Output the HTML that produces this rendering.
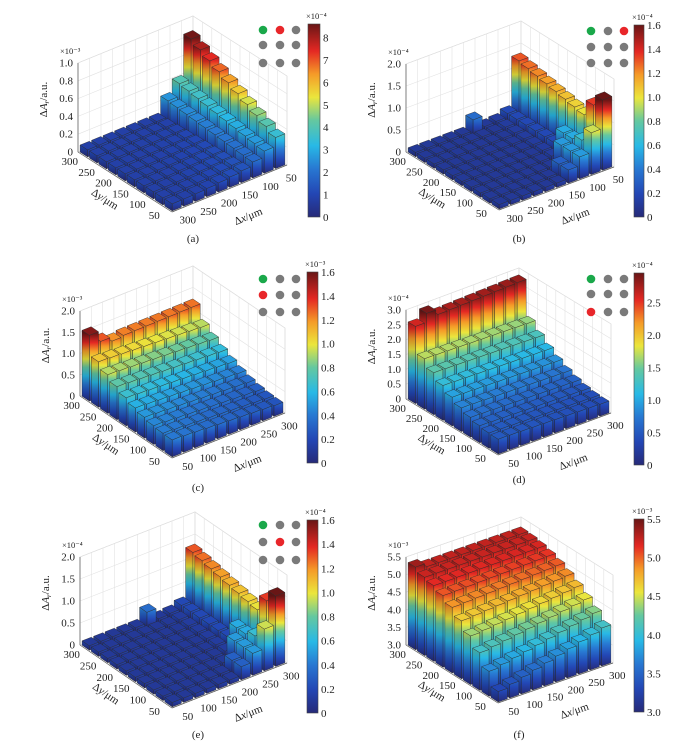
<!DOCTYPE html>
<html><head><meta charset="utf-8">
<style>
html,body{margin:0;padding:0;background:#fff;}
svg{display:block;font-family:"Liberation Serif",serif;}
text{fill:#222;font-size:11px;}
.small{font-size:8.5px;}
</style></head>
<body>
<svg id="S" width="692" height="753" viewBox="0 0 692 753" xmlns="http://www.w3.org/2000/svg">
<defs id="D"></defs>

<g id="pa" transform="translate(0,0)">
 <g class="bars"></g>
 <g class="zt"><text>0</text><text>0.2</text><text>0.4</text><text>0.6</text><text>0.8</text><text>1.0</text></g>
 <text class="zexp small">×10⁻³</text>
 <g class="yt"><text>300</text><text>250</text><text>200</text><text>150</text><text>100</text><text>50</text></g>
 <g class="xt"><text>300</text><text>250</text><text>200</text><text>150</text><text>100</text><text>50</text></g>
 <g class="ct"><text>0</text><text>1</text><text>2</text><text>3</text><text>4</text><text>5</text><text>6</text><text>7</text><text>8</text></g>
 <text class="cexp small">×10⁻⁴</text>
 <text class="ztitle">Δ<tspan font-style="italic">A</tspan><tspan font-size="7" dy="2" font-style="italic">r</tspan><tspan dy="-2">/a.u.</tspan></text>
 <text class="ytitle">Δ<tspan font-style="italic">y</tspan>/μm</text>
 <text class="xtitle">Δ<tspan font-style="italic">x</tspan>/μm</text>
 <text x="193" y="242" text-anchor="middle">(a)</text>
</g>

<g id="pb" transform="translate(346,0)">
 <g class="bars"></g>
 <g class="zt"><text>0</text><text>0.5</text><text>1.0</text><text>1.5</text><text>2.0</text></g>
 <text class="zexp small">×10⁻⁴</text>
 <g class="yt"><text>300</text><text>250</text><text>200</text><text>150</text><text>100</text><text>50</text></g>
 <g class="xt"><text>300</text><text>250</text><text>200</text><text>150</text><text>100</text><text>50</text></g>
 <g class="ct"><text>0</text><text>0.2</text><text>0.4</text><text>0.6</text><text>0.8</text><text>1.0</text><text>1.2</text><text>1.4</text><text>1.6</text></g>
 <text class="cexp small">×10⁻⁴</text>
 <text class="ztitle">Δ<tspan font-style="italic">A</tspan><tspan font-size="7" dy="2" font-style="italic">r</tspan><tspan dy="-2">/a.u.</tspan></text>
 <text class="ytitle">Δ<tspan font-style="italic">y</tspan>/μm</text>
 <text class="xtitle">Δ<tspan font-style="italic">x</tspan>/μm</text>
 <text x="173" y="242" text-anchor="middle">(b)</text>
</g>

<g id="pc" transform="translate(0,250)">
 <g class="bars"></g>
 <g class="zt"><text>0</text><text>0.5</text><text>1.0</text><text>1.5</text><text>2.0</text></g>
 <text class="zexp small">×10⁻³</text>
 <g class="yt"><text>300</text><text>250</text><text>200</text><text>150</text><text>100</text><text>50</text></g>
 <g class="xt"><text>50</text><text>100</text><text>150</text><text>200</text><text>250</text><text>300</text></g>
 <g class="ct"><text>0</text><text>0.2</text><text>0.4</text><text>0.6</text><text>0.8</text><text>1.0</text><text>1.2</text><text>1.4</text><text>1.6</text></g>
 <text class="cexp small">×10⁻³</text>
 <text class="ztitle">Δ<tspan font-style="italic">A</tspan><tspan font-size="7" dy="2" font-style="italic">r</tspan><tspan dy="-2">/a.u.</tspan></text>
 <text class="ytitle">Δ<tspan font-style="italic">y</tspan>/μm</text>
 <text class="xtitle">Δ<tspan font-style="italic">x</tspan>/μm</text>
 <text x="198" y="241" text-anchor="middle">(c)</text>
</g>

<g id="pd" transform="translate(346,250)">
 <g class="bars"></g>
 <g class="zt"><text>0</text><text>0.5</text><text>1.0</text><text>1.5</text><text>2.0</text><text>2.5</text><text>3.0</text></g>
 <text class="zexp small">×10⁻⁴</text>
 <g class="yt"><text>300</text><text>250</text><text>200</text><text>150</text><text>100</text><text>50</text></g>
 <g class="xt"><text>50</text><text>100</text><text>150</text><text>200</text><text>250</text><text>300</text></g>
 <g class="ct"><text>0</text><text>0.5</text><text>1.0</text><text>1.5</text><text>2.0</text><text>2.5</text></g>
 <text class="cexp small">×10⁻⁴</text>
 <text class="ztitle">Δ<tspan font-style="italic">A</tspan><tspan font-size="7" dy="2" font-style="italic">r</tspan><tspan dy="-2">/a.u.</tspan></text>
 <text class="ytitle">Δ<tspan font-style="italic">y</tspan>/μm</text>
 <text class="xtitle">Δ<tspan font-style="italic">x</tspan>/μm</text>
 <text x="173" y="233" text-anchor="middle">(d)</text>
</g>

<g id="pe" transform="translate(0,500)">
 <g class="bars"></g>
 <g class="zt"><text>0</text><text>0.5</text><text>1.0</text><text>1.5</text><text>2.0</text></g>
 <text class="zexp small">×10⁻⁴</text>
 <g class="yt"><text>300</text><text>250</text><text>200</text><text>150</text><text>100</text><text>50</text></g>
 <g class="xt"><text>50</text><text>100</text><text>150</text><text>200</text><text>250</text><text>300</text></g>
 <g class="ct"><text>0</text><text>0.2</text><text>0.4</text><text>0.6</text><text>0.8</text><text>1.0</text><text>1.2</text><text>1.4</text><text>1.6</text></g>
 <text class="cexp small">×10⁻⁴</text>
 <text class="ztitle">Δ<tspan font-style="italic">A</tspan><tspan font-size="7" dy="2" font-style="italic">r</tspan><tspan dy="-2">/a.u.</tspan></text>
 <text class="ytitle">Δ<tspan font-style="italic">y</tspan>/μm</text>
 <text class="xtitle">Δ<tspan font-style="italic">x</tspan>/μm</text>
 <text x="198" y="238" text-anchor="middle">(e)</text>
</g>

<g id="pf" transform="translate(346,500)">
 <g class="bars"></g>
 <g class="zt"><text>3.0</text><text>3.5</text><text>4.0</text><text>4.5</text><text>5.0</text><text>5.5</text></g>
 <text class="zexp small">×10⁻³</text>
 <g class="yt"><text>300</text><text>250</text><text>200</text><text>150</text><text>100</text><text>50</text></g>
 <g class="xt"><text>50</text><text>100</text><text>150</text><text>200</text><text>250</text><text>300</text></g>
 <g class="ct"><text>3.0</text><text>3.5</text><text>4.0</text><text>4.5</text><text>5.0</text><text>5.5</text></g>
 <text class="cexp small">×10⁻³</text>
 <text class="ztitle">Δ<tspan font-style="italic">A</tspan><tspan font-size="7" dy="2" font-style="italic">r</tspan><tspan dy="-2">/a.u.</tspan></text>
 <text class="ytitle">Δ<tspan font-style="italic">y</tspan>/μm</text>
 <text class="xtitle">Δ<tspan font-style="italic">x</tspan>/μm</text>
 <text x="173" y="238" text-anchor="middle">(f)</text>
</g>
</svg>

<script>
(function(){
var NS="http://www.w3.org/2000/svg";
var D=document.getElementById("D");
var stops=[[0,[38,42,120]],[0.12,[35,70,180]],[0.25,[40,120,210]],[0.37,[40,185,230]],[0.5,[100,200,160]],[0.62,[235,230,60]],[0.74,[245,155,40]],[0.86,[228,40,35]],[1,[105,22,22]]];
function cmap(f){f=Math.max(0,Math.min(1,f));for(var i=1;i<stops.length;i++){if(f<=stops[i][0]){var a=stops[i-1],b=stops[i],u=(f-a[0])/(b[0]-a[0]);return "rgb("+[0,1,2].map(function(k){return Math.round(a[1][k]+(b[1][k]-a[1][k])*u);}).join(",")+")";}}return "rgb(105,22,22)";}
function el(n,at,par){var e=document.createElementNS(NS,n);for(var k in at)e.setAttribute(k,at[k]);if(par)par.appendChild(e);return e;}
var gid=0;
function grad(x1,y1,x2,y2){var id="g"+(gid++);var g=el("linearGradient",{id:id,gradientUnits:"userSpaceOnUse",x1:x1,y1:y1,x2:x2,y2:y2},D);stops.forEach(function(s){el("stop",{offset:s[0],"stop-color":cmap(s[0])},g);});return "url(#"+id+")";}

function fa(p,q){if(q==9)return 3.5+5*p/9;if(q==8)return 2.5+1.5*p/9;if(q==7)return 1.8+0.8*p/9;return 0.8+1.2*Math.pow(q/9,2)*(1-p/9);}
function fb(p,q){if(q==9){if(p==0)return 1.6;if(p==1)return 1.35;return 1.0+0.3*(p-2)/7;}
 if(q==8){if(p==0)return 0.95;if(p==1)return 0.65;if(p<4)return 0.55;return 0.2;}
 if(q==7){if(p<3)return 0.5;return 0.12;} if(q==6&&p<2)return 0.3; if(p==9&&q==5) return 0.35; return 0.1;}
function fc(p,q){if(p==9){if(q==0)return 1.55;if(q==1)return 1.3;if(q==2)return 1.2;return 1.22+0.03*q/9;}return 0.4-0.15*q/9+0.85*Math.pow(p/9,2);}
function fd(p,q){if(p==9){if(q==0)return 2.6;if(q==1)return 2.9;return 2.7+0.1*q/9;}return 0.5-0.1*q/9+1.2*Math.pow(p/8,2);}
function ff(p,q){if(p==9&&q==0)return 5.35;return 5.25-1.95*Math.pow(1-p/9,2)*(1-0.4*q/9);}

var P=[
 {id:"pa",L:[78,152],F:[172,212],R:[287,165],zpx:8.9,base:0,cb:[0,8.6],zv:[0,2,4,6,8,10],cx:308,cw:12,cy0:24,cy1:217,cv:[0,1,2,3,4,5,6,7,8],f:fa,dx:[263,280,296],dy:[30,45,63],dc:[["#1aa84a","#e8262a","#7a7a7a"],["#7a7a7a","#7a7a7a","#7a7a7a"],["#7a7a7a","#7a7a7a","#7a7a7a"]]},
 {id:"pb",L:[60,152],F:[153,210],R:[268,167],zpx:44,base:0,cb:[0,1.6],zv:[0,0.5,1,1.5,2],cx:288,cw:10,cy0:25,cy1:217,cv:[0,.2,.4,.6,.8,1,1.2,1.4,1.6],f:fb,dx:[245,262,278],dy:[31,47,63],dc:[["#1aa84a","#7a7a7a","#e8262a"],["#7a7a7a","#7a7a7a","#7a7a7a"],["#7a7a7a","#7a7a7a","#7a7a7a"]]},
 {id:"pc",L:[80,146],F:[172,208],R:[285,163],zpx:42.5,base:0,cb:[0,1.6],zv:[0,0.5,1,1.5,2],cx:307,cw:11,cy0:22,cy1:213,cv:[0,.2,.4,.6,.8,1,1.2,1.4,1.6],f:fc,dx:[263,280,296],dy:[29,45,62],dc:[["#1aa84a","#7a7a7a","#7a7a7a"],["#e8262a","#7a7a7a","#7a7a7a"],["#7a7a7a","#7a7a7a","#7a7a7a"]]},
 {id:"pd",L:[60,149],F:[152,205],R:[265,163],zpx:29.7,base:0,cb:[0,2.95],zv:[0,.5,1,1.5,2,2.5,3],cx:288,cw:10,cy0:23,cy1:215,cv:[0,.5,1,1.5,2,2.5],f:fd,dx:[245,262,278],dy:[29,44,62],dc:[["#1aa84a","#7a7a7a","#7a7a7a"],["#7a7a7a","#7a7a7a","#7a7a7a"],["#e8262a","#7a7a7a","#7a7a7a"]]},
 {id:"pe",L:[80,145],F:[172,208],R:[287,163],zpx:44,base:0,cb:[0,1.6],zv:[0,0.5,1,1.5,2],cx:307,cw:11,cy0:20,cy1:213,cv:[0,.2,.4,.6,.8,1,1.2,1.4,1.6],f:fb,dx:[263,280,296],dy:[25,42,60],dc:[["#1aa84a","#7a7a7a","#7a7a7a"],["#7a7a7a","#e8262a","#7a7a7a"],["#7a7a7a","#7a7a7a","#7a7a7a"]]},
 {id:"pf",L:[60,145],F:[152,203],R:[267,163],zpx:35.2,base:3,cb:[3,5.5],zv:[3,3.5,4,4.5,5,5.5],cx:288,cw:10,cy0:19,cy1:212,cv:[3,3.5,4,4.5,5,5.5],f:ff,dx:[],dy:[],dc:[]}
];

P.forEach(function(c){
 var G=document.getElementById(c.id), B=G.querySelector(".bars");
 var L=c.L,F=c.F,R=c.R;
 function pr(s,t,v){return [F[0]+s*(L[0]-F[0])+t*(R[0]-F[0]), F[1]+s*(L[1]-F[1])+t*(R[1]-F[1])-(v-c.base)*c.zpx];}
 function pts(a){return a.map(function(p){return p[0].toFixed(1)+","+p[1].toFixed(1);}).join(" ");}
 var zmax=c.zv[c.zv.length-1];
 var wallL=[pr(1,0,c.base),pr(1,1,c.base),pr(1,1,zmax),pr(1,0,zmax)];
 var wallR=[pr(0,1,c.base),pr(1,1,c.base),pr(1,1,zmax),pr(0,1,zmax)];
 el("polygon",{points:pts(wallL),fill:"#fff",stroke:"#ccc","stroke-width":0.6},B);
 el("polygon",{points:pts(wallR),fill:"#fff",stroke:"#ccc","stroke-width":0.6},B);
 for(var k=0;k<=10;k++){var u=k/10;
  var a=pr(1,u,c.base),b=pr(1,u,zmax);el("line",{x1:a[0],y1:a[1],x2:b[0],y2:b[1],stroke:"#e2e2e2","stroke-width":0.6},B);
  a=pr(u,1,c.base);b=pr(u,1,zmax);el("line",{x1:a[0],y1:a[1],x2:b[0],y2:b[1],stroke:"#e2e2e2","stroke-width":0.6},B);
  a=pr(u,0,c.base);b=pr(u,1,c.base);el("line",{x1:a[0],y1:a[1],x2:b[0],y2:b[1],stroke:"#e2e2e2","stroke-width":0.6},B);
  a=pr(0,u,c.base);b=pr(1,u,c.base);el("line",{x1:a[0],y1:a[1],x2:b[0],y2:b[1],stroke:"#e2e2e2","stroke-width":0.6},B);
 }
 c.zv.forEach(function(v){var a=pr(1,0,v),b=pr(1,1,v),d=pr(0,1,v);el("polyline",{points:pts([a,b,d]),fill:"none",stroke:"#e2e2e2","stroke-width":0.6},B);});
 var zb=pr(1,0,c.base),zt=pr(1,0,zmax);
 el("line",{x1:zb[0],y1:zb[1],x2:zt[0],y2:zt[1],stroke:"#555","stroke-width":0.7},B);
 el("line",{x1:L[0],y1:L[1],x2:F[0],y2:F[1],stroke:"#555","stroke-width":0.7},B);
 el("line",{x1:F[0],y1:F[1],x2:R[0],y2:R[1],stroke:"#555","stroke-width":0.7},B);
 var span=c.cb[1]-c.cb[0];
 for(var sum=18;sum>=0;sum--){for(var p=9;p>=0;p--){var q=sum-p;if(q<0||q>9)continue;
  var v=c.f(p,q);var s0=(p+0.1)/10,s1=(p+0.9)/10,t0=(q+0.1)/10,t1=(q+0.9)/10;
  var fb0=pr(s0,t0,c.base);
  var gr=grad(fb0[0],fb0[1],fb0[0],fb0[1]-span*c.zpx);
  var f1=[pr(s0,t0,c.base),pr(s0,t1,c.base),pr(s0,t1,v),pr(s0,t0,v)];
  var f2=[pr(s0,t0,c.base),pr(s1,t0,c.base),pr(s1,t0,v),pr(s0,t0,v)];
  var top=[pr(s0,t0,v),pr(s1,t0,v),pr(s1,t1,v),pr(s0,t1,v)];
  el("polygon",{points:pts(f1),fill:gr,stroke:"#2a2a2a","stroke-width":0.4},B);
  el("polygon",{points:pts(f2),fill:gr,stroke:"#2a2a2a","stroke-width":0.4},B);
  el("polygon",{points:pts(f2),fill:"#000","fill-opacity":0.12},B);
  el("polygon",{points:pts(top),fill:cmap((v-c.cb[0])/span),stroke:"#2a2a2a","stroke-width":0.4},B);
 }}
 var cg=el("linearGradient",{id:"cb"+c.id,x1:0,y1:1,x2:0,y2:0},D);
 stops.forEach(function(s){el("stop",{offset:s[0],"stop-color":cmap(s[0])},cg);});
 el("rect",{x:c.cx,y:c.cy0,width:c.cw,height:c.cy1-c.cy0,fill:"url(#cb"+c.id+")",stroke:"#444","stroke-width":0.6},B);
 for(var r=0;r<c.dc.length;r++)for(var k2=0;k2<3;k2++)el("circle",{cx:c.dx[k2],cy:c.dy[r],r:4.3,fill:c.dc[r][k2]},B);
 var zt_=G.querySelectorAll(".zt text");
 zt_.forEach(function(t,i){var pt=pr(1,0,c.zv[i]);t.setAttribute("x",pt[0]-5);t.setAttribute("y",pt[1]+3.5);t.setAttribute("text-anchor","end");});
 var ze=G.querySelector(".zexp");ze.setAttribute("x",zt[0]-18);ze.setAttribute("y",zt[1]-9);
 G.querySelectorAll(".yt text").forEach(function(t,i){var s=0.95-0.18*i;var pt=pr(s,0,c.base);t.setAttribute("x",pt[0]-13);t.setAttribute("y",pt[1]+10);t.setAttribute("text-anchor","middle");});
 G.querySelectorAll(".xt text").forEach(function(t,i){var tt=0.05+0.18*i;var pt=pr(0,tt,c.base);t.setAttribute("x",pt[0]+10);t.setAttribute("y",pt[1]+14);t.setAttribute("text-anchor","middle");});
 G.querySelectorAll(".ct text").forEach(function(t,i){var y=c.cy1-(c.cv[i]-c.cb[0])/span*(c.cy1-c.cy0);t.setAttribute("x",c.cx+c.cw+3);t.setAttribute("y",y+4);});
 var ce=G.querySelector(".cexp");ce.setAttribute("x",c.cx-2);ce.setAttribute("y",c.cy0-5);
 var zti=G.querySelector(".ztitle");var zx=zb[0]-31,zy=(zb[1]+zt[1])/2-8;
 zti.setAttribute("x",zx);zti.setAttribute("y",zy);zti.setAttribute("text-anchor","middle");zti.setAttribute("transform","rotate(-90 "+zx+" "+zy+")");
 var yti=G.querySelector(".ytitle");var ym=[(L[0]+F[0])/2-22,(L[1]+F[1])/2+20];var ang=Math.atan2(F[1]-L[1],F[0]-L[0])*180/Math.PI;
 yti.setAttribute("x",ym[0]);yti.setAttribute("y",ym[1]);yti.setAttribute("text-anchor","middle");yti.setAttribute("transform","rotate("+ang.toFixed(1)+" "+ym[0]+" "+ym[1]+")");
 var xti=G.querySelector(".xtitle");var xm=[(F[0]+R[0])/2+20,(F[1]+R[1])/2+31];var ang2=Math.atan2(R[1]-F[1],R[0]-F[0])*180/Math.PI;
 xti.setAttribute("x",xm[0]);xti.setAttribute("y",xm[1]);xti.setAttribute("text-anchor","middle");xti.setAttribute("transform","rotate("+ang2.toFixed(1)+" "+xm[0]+" "+xm[1]+")");
});
})();
</script>
</body></html>
